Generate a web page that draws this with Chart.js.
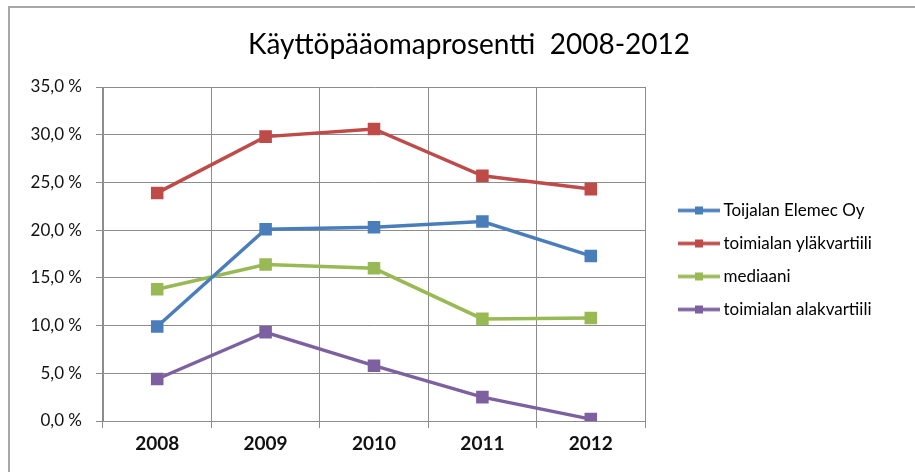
<!DOCTYPE html>
<html>
<head>
<meta charset="utf-8">
<script src="https://cdn.jsdelivr.net/npm/chart.js@4"></script>
<style>
  body { margin: 0; background: #fff; }
  #wrap { position: relative; width: 915px; height: 472px; }
  #frame {
    position: absolute; left: 8px; top: 6px; right: 0; bottom: 0;
    border-top: 2px solid #a8a8a8; border-left: 2px solid #a8a8a8;
    pointer-events: none;
  }
</style>
</head>
<body>
<div id="wrap">
  <canvas id="chart" width="915" height="472"></canvas>
  <div id="frame"></div>
</div>
<script>
const vuodet = ['2008', '2009', '2010', '2011', '2012'];
const elemec = [9.9, 20.1, 20.3, 20.9, 17.3];
const ylakvartiili = [23.9, 29.8, 30.6, 25.7, 24.3];
const mediaani = [13.8, 16.4, 16.0, 10.7, 10.8];
const alakvartiili = [4.4, 9.3, 5.8, 2.5, 0.2];
const sarjat = ['Toijalan Elemec Oy', 'toimialan yläkvartiili', 'mediaani', 'toimialan alakvartiili'];
const varit = ['#4a7ebb', '#be4b48', '#98b954', '#7d60a0'];

const fontti = 'Lato, "Liberation Sans", sans-serif';

// Excel-tyylinen selitteen merkki: viiva ja neliö
function selitemerkki(vari) {
  const c = document.createElement('canvas');
  c.width = 64; c.height = 12;
  const g = c.getContext('2d');
  g.strokeStyle = vari;
  g.lineWidth = 3.5;
  g.beginPath(); g.moveTo(22, 6); g.lineTo(64, 6); g.stroke();
  g.fillStyle = vari;
  g.fillRect(39, 2, 8, 8);
  return c;
}

const arvot = [elemec, ylakvartiili, mediaani, alakvartiili];
const datasets = arvot.map((d, i) => ({
  label: sarjat[i],
  data: d,
  borderColor: varit[i],
  backgroundColor: varit[i],
  borderWidth: 3.5,
  pointStyle: 'rect',
  pointRadius: 6.4,
  pointHoverRadius: 6.4,
  tension: 0,
  merkki: selitemerkki(varit[i])
}));

// selite kiinteän levyiseksi ja hieman alemmas, otsikko vähän oikealle
const sijoittelu = {
  id: 'sijoittelu',
  afterInit(chart) {
    const lg = chart.legend;
    const fit = lg.fit;
    lg.fit = function () {
      fit.call(this);
      this.width = 270;
    };
  },
  afterLayout(chart) {
    chart.legend.top += 24;
    chart.legend.bottom += 24;
    chart.titleBlock.left += 23;
  }
};

new Chart(document.getElementById('chart'), {
  type: 'line',
  data: { labels: vuodet, datasets: datasets },
  plugins: [sijoittelu],
  options: {
    responsive: false,
    animation: false,
    layout: { padding: 0 },
    plugins: {
      title: {
        display: true,
        text: 'Käyttöpääomaprosentti  2008-2012',
        color: '#000',
        font: { family: fontti, size: 28, weight: 'normal', lineHeight: 1.2 },
        padding: { top: 28, bottom: 25.4 }
      },
      legend: {
        position: 'right',
        align: 'center',
        labels: {
          usePointStyle: true,
          pointStyleWidth: 54,
          padding: 16,
          color: '#000',
          font: { family: fontti, size: 17 },
          generateLabels(chart) {
            return chart.data.datasets.map((ds, i) => ({
              text: ds.label,
              pointStyle: ds.merkki,
              fillStyle: ds.borderColor,
              strokeStyle: ds.borderColor,
              lineWidth: 0,
              fontColor: '#000',
              datasetIndex: i
            }));
          }
        }
      },
      tooltip: { enabled: false }
    },
    scales: {
      x: {
        offset: true,
        afterFit(scale) { scale.height = 51; },
        grid: { color: '#8c8c8c', offset: true, tickLength: 7 },
        border: { color: '#8c8c8c' },
        ticks: {
          color: '#111', padding: 4,
          font: { family: fontti, size: 19, weight: 'bold' }
        }
      },
      y: {
        min: 0, max: 35,
        afterFit(scale) { scale.width = 103; },
        grid: { color: '#8c8c8c', tickLength: 7 },
        border: { color: '#8c8c8c' },
        ticks: {
          stepSize: 5,
          color: '#111',
          padding: 14,
          font: { family: fontti, size: 17 },
          callback: v => v.toFixed(1).replace('.', ',') + ' %'
        }
      }
    }
  }
});
</script>
</body>
</html>
